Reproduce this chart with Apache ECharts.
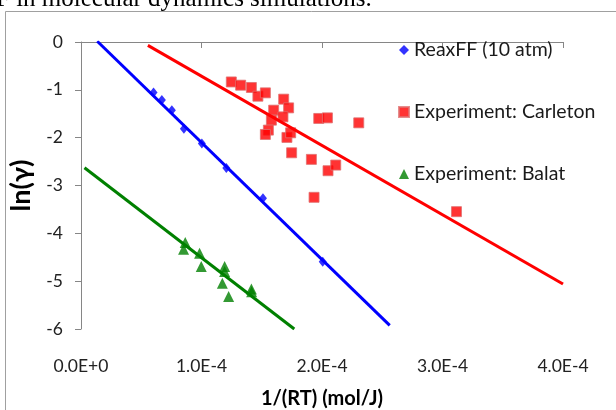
<!DOCTYPE html>
<html>
<head>
<meta charset="utf-8">
<script src="https://cdn.jsdelivr.net/npm/echarts@6/dist/echarts.min.js"></script>
<style>
html,body{margin:0;padding:0;background:#fff;}
#chart{width:616px;height:410px;}
</style>
</head>
<body>
<div id="chart"></div>
<script>
// ---- Data (x in mol/J, y = ln(gamma)) ----
const reaxX = [0.602e-4, 0.671e-4, 0.754e-4, 0.854e-4, 1.003e-4, 1.206e-4, 1.510e-4, 2.006e-4];
const reaxY = [-1.056, -1.21, -1.425, -1.815, -2.12, -2.635, -3.267, -4.596];

const carletonX = [1.2475e-4, 1.325e-4, 1.414e-4, 1.468e-4, 1.530e-4, 1.682e-4, 1.723e-4, 1.599e-4, 1.676e-4, 1.580e-4, 1.555e-4, 1.530e-4, 1.709e-4, 1.740e-4, 1.973e-4, 2.045e-4, 2.305e-4, 1.748e-4, 1.912e-4, 2.050e-4, 2.114e-4, 1.934e-4, 3.116e-4];
const carletonY = [-0.835, -0.903, -0.951, -1.133, -1.063, -1.195, -1.377, -1.425, -1.565, -1.634, -1.842, -1.933, -1.995, -1.898, -1.598, -1.586, -1.690, -2.316, -2.454, -2.691, -2.573, -3.247, -3.547];

const balatX = [0.865e-4, 0.851e-4, 0.984e-4, 0.998e-4, 1.192e-4, 1.192e-4, 1.173e-4, 1.225e-4, 1.414e-4, 1.416e-4];
const balatY = [-4.194, -4.331, -4.414, -4.694, -4.694, -4.799, -5.041, -5.320, -5.166, -5.22];

// Trendline endpoints
const reaxFitX = [0.135e-4, 2.562e-4];
const reaxFitY = [0.015, -5.925];
const carletonFitX = [0.555e-4, 4.0e-4];
const carletonFitY = [-0.07, -5.06];
const balatFitX = [0.029e-4, 1.77e-4];
const balatFitY = [-2.63, -6.0];

const seriesNames = ['ReaxFF (10 atm)', 'Experiment: Carleton', 'Experiment: Balat'];
const xTickLabels = ['0.0E+0', '1.0E-4', '2.0E-4', '3.0E-4', '4.0E-4'];
const yTickLabels = ['-6', '-5', '-4', '-3', '-2', '-1', '0'];

const zip = (xs, ys) => xs.map((x, i) => [x, ys[i]]);

const FONT = 'Lato';
const chart = echarts.init(document.getElementById('chart'), null, {renderer: 'canvas'});
chart.setOption({
  animation: false,
  backgroundColor: '#fff',
  grid: {left: 81, right: 53, top: 42, bottom: 81, containLabel: false, outerBoundsMode: 'none'},
  xAxis: {
    type: 'value', min: 0, max: 4e-4, interval: 1e-4,
    name: '1/(RT) (mol/J)', nameLocation: 'middle', nameGap: 60,
    nameTextStyle: {fontFamily: FONT, fontWeight: 'bold', fontSize: 20, color: '#000'},
    axisLine: {show: true, lineStyle: {color: '#868686', width: 1}},
    axisTick: {show: true, inside: false, length: 6, lineStyle: {color: '#868686'}},
    axisLabel: {
      margin: 28, fontFamily: FONT, fontSize: 17.5, color: '#222',
      formatter: v => xTickLabels[Math.round(v / 1e-4)]
    },
    splitLine: {show: false}
  },
  yAxis: {
    type: 'value', min: -6, max: 0, interval: 1,
    name: 'ln(γ)', nameLocation: 'middle', nameGap: 46, nameRotate: 90,
    nameTextStyle: {fontFamily: FONT, fontWeight: 'bold', fontSize: 27, color: '#000'},
    axisLine: {show: true, lineStyle: {color: '#868686', width: 1}},
    axisTick: {show: true, inside: false, length: 6, lineStyle: {color: '#868686'}},
    axisLabel: {
      margin: 18, fontFamily: FONT, fontSize: 17.5, color: '#222',
      formatter: v => yTickLabels[Math.round(v) + 6]
    },
    splitLine: {show: false}
  },
  legend: {
    orient: 'vertical', left: 393, top: 34,
    itemWidth: 10, itemHeight: 10, itemGap: 40,
    textStyle: {fontFamily: FONT, fontSize: 19.5, color: '#1a1a1a', lineHeight: 22},
    data: [
      {name: seriesNames[0], icon: 'diamond'},
      {name: seriesNames[1], icon: 'rect'},
      {name: seriesNames[2], icon: 'triangle'}
    ]
  },
  graphic: [
    {type: 'rect', silent: true, z: 0,
     shape: {x: 5.5, y: 11.5, width: 700, height: 500},
     style: {fill: null, stroke: '#a0a0a0', lineWidth: 1}},
    {type: 'text', silent: true, x: -4, y: 12,
     style: {text: 'F in molecular dynamics simulations.', font: '25px "Liberation Serif"',
             fill: '#000', textVerticalAlign: 'bottom', verticalAlign: 'bottom'}}
  ],
  series: [
    {name: seriesNames[0], type: 'scatter', data: zip(reaxX, reaxY),
     symbol: 'diamond', symbolSize: [8, 10], itemStyle: {color: '#0000ff'}, z: 2},
    {name: seriesNames[1], type: 'scatter', data: zip(carletonX, carletonY),
     symbol: 'rect', symbolSize: 10, itemStyle: {color: '#ff0000', borderColor: '#e07070', borderWidth: 1}, z: 2},
    {name: seriesNames[2], type: 'scatter', data: zip(balatX, balatY),
     symbol: 'triangle', symbolSize: [11, 11], itemStyle: {color: '#008000'}, z: 2},
    {name: 'reaxFit', type: 'line', data: zip(reaxFitX, reaxFitY), symbol: 'none',
     lineStyle: {color: '#0000ff', width: 3}, z: 3},
    {name: 'carletonFit', type: 'line', data: zip(carletonFitX, carletonFitY), symbol: 'none',
     lineStyle: {color: '#ff0000', width: 3}, z: 3},
    {name: 'balatFit', type: 'line', data: zip(balatFitX, balatFitY), symbol: 'none',
     lineStyle: {color: '#008000', width: 3}, z: 3}
  ]
});
</script>
</body>
</html>
